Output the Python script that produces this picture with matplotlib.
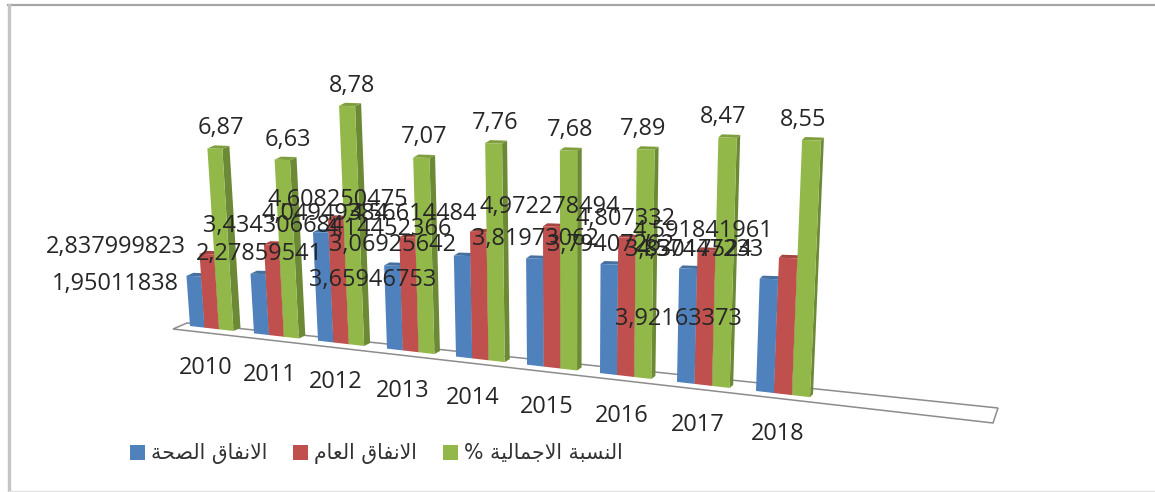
import matplotlib
matplotlib.use("Agg")
import matplotlib.pyplot as plt
from matplotlib.patches import Patch

# ─── data ──────────────────────────────────────────────
years = [2010, 2011, 2012, 2013, 2014, 2015, 2016, 2017, 2018]
health_spend = [1.95011838, 2.27859541, 4.04949384, 3.06925642, 3.65946753,
                3.79407262, 3.83017524, 3.92163373, 3.81973062]
public_spend = [2.837999823, 3.434306684, 4.608250475, 4.14452366, 4.56614484,
                4.972278494, 4.807332, 4.591841961, 4.57447233]
total_ratio = [6.87, 6.63, 8.78, 7.07, 7.76, 7.68, 7.89, 8.47, 8.55]
series_names = ["الانفاق الصحة", "الانفاق العام", "النسبة الاجمالية %"]

# ─── layout (pixels of the 1155x492 canvas) ────────────
group_left = [190, 254, 318, 387, 456, 527, 600, 677, 756]
colors = ["#4F81BD", "#C0504D", "#93B84A"]
side_colors = ["#3A618F", "#8F3B39", "#6C8A36"]
top_colors = ["#44719F", "#A54441", "#7F9F3E"]
# the blue/red labels were dragged around by hand in the original
health_label_pos = [(115, 282), (259, 252), (325, 212), (392, 243), (373, 278),
                    (610, 243), (688, 248), (678, 317), (535, 237)]
public_label_pos = [(116, 245), (273, 224), (338, 198), (388, 227), (413, 212),
                    (550, 205), (626, 217), (703, 229), (700, 248)]
ratio_label_dx = [2, 2, 2, 0, -1, -1, -5, -6, -10]
year_label_pos = [(206, 366), (270, 373), (336, 380), (403, 389), (473, 396),
                  (547, 405), (622, 414), (698, 423), (778, 432)]

# ─── arabic shaping: matplotlib does not join letters by itself ─────
FORMS = {
    "ا": (0xFE8D, 0xFE8E), "ة": (0xFE93, 0xFE94),
    "ل": (0xFEDD, 0xFEDE, 0xFEDF, 0xFEE0), "ن": (0xFEE5, 0xFEE6, 0xFEE7, 0xFEE8),
    "ف": (0xFED1, 0xFED2, 0xFED3, 0xFED4), "ق": (0xFED5, 0xFED6, 0xFED7, 0xFED8),
    "ص": (0xFEB9, 0xFEBA, 0xFEBB, 0xFEBC), "ح": (0xFEA1, 0xFEA2, 0xFEA3, 0xFEA4),
    "ع": (0xFEC9, 0xFECA, 0xFECB, 0xFECC), "م": (0xFEE1, 0xFEE2, 0xFEE3, 0xFEE4),
    "س": (0xFEB1, 0xFEB2, 0xFEB3, 0xFEB4), "ب": (0xFE8F, 0xFE90, 0xFE91, 0xFE92),
    "ج": (0xFE9D, 0xFE9E, 0xFE9F, 0xFEA0), "ي": (0xFEF1, 0xFEF2, 0xFEF3, 0xFEF4),
}


def shape(text):
    out = []
    i = 0
    joined = False  # previous letter connects to this one
    while i < len(text):
        ch = text[i]
        if ch not in FORMS:
            out.append(ch)
            joined = False
            i += 1
            continue
        if ch == "ل" and i + 1 < len(text) and text[i + 1] == "ا":
            out.append(chr(0xFEFC if joined else 0xFEFB))
            joined = False
            i += 2
            continue
        f = FORMS[ch]
        nxt = i + 1 < len(text) and text[i + 1] in FORMS and len(f) == 4
        if joined and nxt:
            out.append(chr(f[3]))
        elif joined:
            out.append(chr(f[1]))
        elif nxt:
            out.append(chr(f[2]))
        else:
            out.append(chr(f[0]))
        joined = nxt
        i += 1
    return "".join(out)[::-1]


# ─── fake perspective of the excel 3d column chart ─────
def base_y(x):
    return 326 + 0.1148 * (x - 190)


def unit_px(x):
    return 26.5 + (x - 225) * 0.00609


def lean(x, h):
    return (x - 573) * 0.00018 * h


def draw_bar(ax, x0, w, side, value, k):
    x1 = x0 + w
    y0, y1 = base_y(x0), base_y(x1)
    h = value * unit_px((x0 + x1) / 2)
    tx0, tx1 = x0 + lean(x0, h), x1 + lean(x1, h)
    ty1 = y1 - h
    ty0 = ty1 - 0.3 * (y1 - y0)  # top edge is almost flat
    ax.fill([x1, x1 + side, tx1 + side, tx1], [y1, y1 - 3, ty1 - 3, ty1],
            color=side_colors[k], lw=0, zorder=3)
    ax.fill([tx0, tx1, tx1 + side, tx0 + side], [ty0, ty1, ty1 - 3, ty0 - 3],
            color=top_colors[k], lw=0, zorder=3)
    ax.fill([x0, x1, tx1, tx0], [y0, y1, ty1, ty0], color=colors[k], lw=0, zorder=3)
    return (tx0 + tx1) / 2, ty0


fig = plt.figure(figsize=(11.55, 4.92), dpi=100)
ax = fig.add_axes([0, 0, 1, 1])
ax.set_xlim(0, 1155)
ax.set_ylim(492, 0)
ax.axis("off")

# page frame
ax.plot([8, 1155], [5, 5], color="#a6a6a6", lw=1.6)
ax.plot([9, 9], [5, 492], color="#c4c4c4", lw=2.4)
ax.plot([9, 1155], [491, 491], color="#e2e2e2", lw=1)

# floor
ax.fill([173, 187, 998, 993], [329, 323, 408, 423], facecolor="white",
        edgecolor="#8c8c8c", lw=1.1, zorder=1)

series = [health_spend, public_spend, total_ratio]
text_kw = dict(family="Open Sans", fontsize=16.9, color="#262626", ha="center",
               va="center", zorder=5)


def put_label(x, y, s):
    ax.text(x, y + 2, s, **text_kw)  # +2: va=center counts the descender


for i in range(len(years)):
    w = 14.5 + i / 8 * 3.5
    side = 7 - i / 8 * 4
    for k, values in enumerate(series):
        top_x, top_y = draw_bar(ax, group_left[i] + k * w, w, side, values[i], k)
        if k == 2:
            put_label(top_x + side / 2 + ratio_label_dx[i], top_y - 22,
                      str(values[i]).replace(".", ","))

for i in range(len(years)):
    put_label(*health_label_pos[i], str(health_spend[i]).replace(".", ","))
    put_label(*public_label_pos[i], str(public_spend[i]).replace(".", ","))
    put_label(*year_label_pos[i], str(years[i]))

handles = [Patch(facecolor=c, edgecolor="none") for c in colors]
ax.legend(handles, [shape(n) for n in series_names], ncol=3, frameon=False,
          loc="center left", bbox_to_anchor=(130 / 1155, 1 - 454 / 492),
          prop={"family": "DejaVu Sans", "size": 14.8}, labelcolor="#333333",
          handlelength=0.73, handleheight=0.73, handletextpad=0.29, columnspacing=1.26,
          borderpad=0, borderaxespad=0)

fig.savefig("out.png", dpi=100)
